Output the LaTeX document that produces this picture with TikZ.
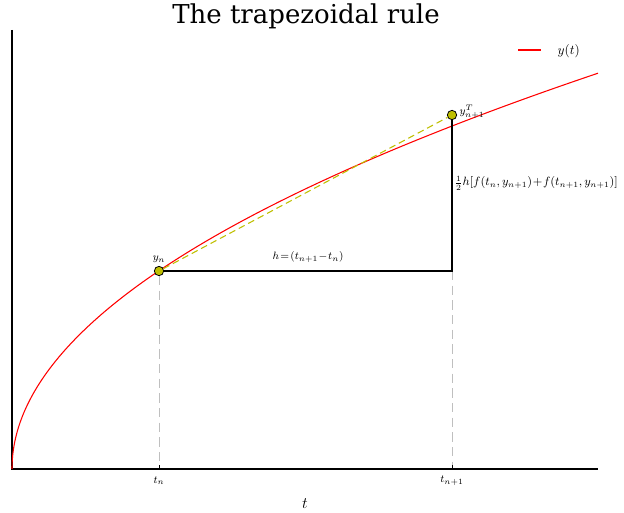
\documentclass[tikz,border=0pt]{standalone}
\usepackage{fontspec}
\newfontfamily\titlefont{DejaVu Serif}
\usepackage{amsmath}
\usetikzlibrary{positioning}

\definecolor{CurveRed}{HTML}{FF0000}
\definecolor{PointOlive}{HTML}{BFBF00}
\definecolor{GuideGray}{HTML}{BFBFBF}

\tikzset{
    % Axis spines
    spine/.style={
        draw=black,
        line width=0.9pt
    },
    % Solution curve
    curveline/.style={
        draw=CurveRed,
        line width=0.8pt
    },
    % Sample points
    samplept/.style={
        circle,
        draw=black,
        fill=PointOlive,
        line width=0.6pt,
        inner sep=0pt,
        minimum size=7pt
    },
    % Trapezoid step lines
    stepline/.style={
        draw=black,
        line width=0.8pt
    },
    % Secant (dashed)
    secant/.style={
        draw=PointOlive,
        line width=0.8pt,
        dash pattern=on 5pt off 3pt
    },
    % Vertical guides
    guide/.style={
        draw=GuideGray,
        line width=0.6pt,
        dash pattern=on 7pt off 4pt
    },
    % Labels
    smalllabel/.style={
        font=\footnotesize,
        inner sep=1pt
    },
    ticklabel/.style={
        font=\footnotesize,
        inner sep=1pt
    }
}

\begin{document}
\begin{tikzpicture}[x=0.75pt, y=-0.75pt]
    \useasboundingbox (0,0) rectangle (624,513);

    % axes
    \coordinate (origin) at (12,469);
    \coordinate (ytop) at (12,30);
    \coordinate (xend) at (598,469);
    \draw[spine] (ytop) -- (origin) -- (xend);

    % title and axis label
    \node[font=\titlefont\fontsize{19.5}{21}\selectfont] (title) at (306,16) {The trapezoidal rule};
    \node[font=\large] (tlabel) at (305,504) {$t$};

    % curve y(t)
    \draw[curveline] plot[domain=0:24.207, samples=200] ({12+\x*\x},{469-16.35*\x});

    % points
    \node[samplept] (yn) at (159,271) {};
    \node[samplept] (ynT) at (452,115) {};
    \coordinate (corner) at (452,271);
    \coordinate (tnbase) at (159,469);
    \coordinate (tnnbase) at (452,469);

    % guides and ticks
    \draw[guide] (yn) -- (tnbase);
    \draw[guide] (corner) -- (tnnbase);
    \draw[spine, line width=0.6pt] (tnbase) -- ++(0,-4);
    \draw[spine, line width=0.6pt] (tnnbase) -- ++(0,-4);
    \node[ticklabel] (tn) at (159,481) {$t_n$};
    \node[ticklabel] (tnn) at (452,481) {$t_{n+1}$};

    % trapezoid construction
    \draw[secant] (yn) -- (ynT);
    \draw[stepline] (yn) -- (corner) -- (ynT);

    % annotations
    \node[smalllabel, above=1pt of yn] (ynlab) {$y_n$};
    \node[smalllabel, anchor=west] (ynTlab) at (458,112) {$y_{n+1}^T$};
    \node[smalllabel, anchor=south] (hlab) at (308,264) {$h\!=\!(t_{n+1}\!-\!t_n)$};
    \node[smalllabel, font=\small, anchor=west] (flab) at (453,183)
        {$\tfrac{1}{2}h[f(t_n,y_{n+1})\!+\!f(t_{n+1},y_{n+1})]$};

    % legend
    \coordinate (legA) at (518,50);
    \coordinate (legB) at (541,50);
    \draw[curveline] (legA) -- (legB);
    \node[font=\normalsize, inner sep=1pt, anchor=west] (leglab) at (556,51) {$y(t)$};
\end{tikzpicture}
\end{document}
